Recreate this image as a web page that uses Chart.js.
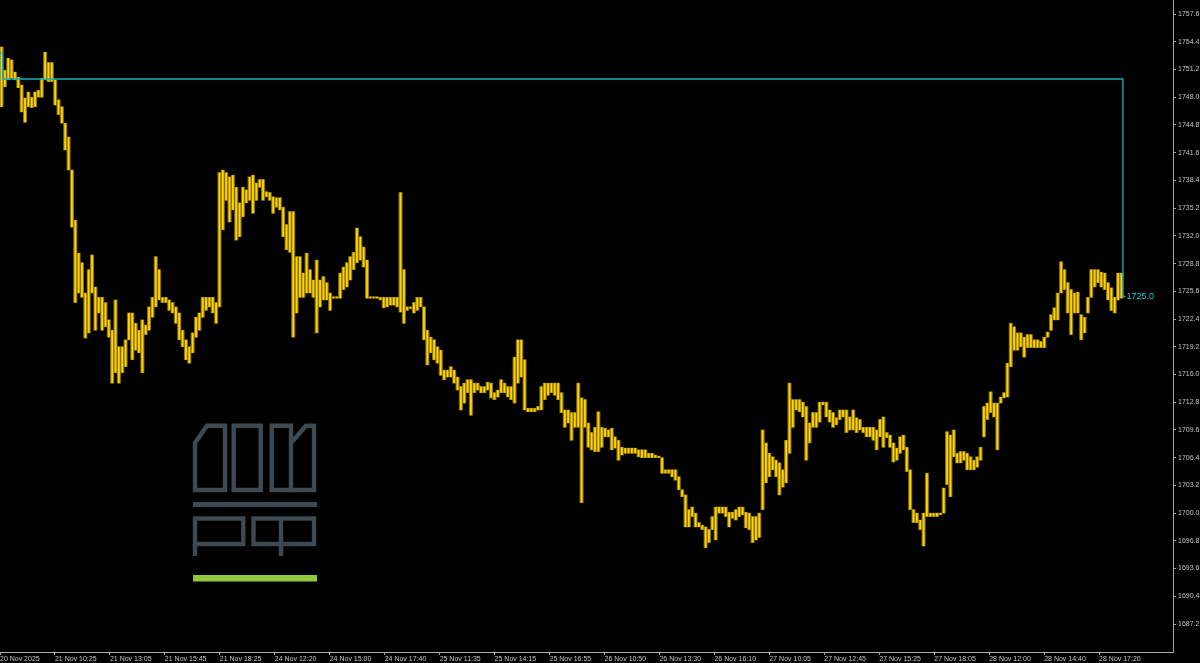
<!DOCTYPE html>
<html>
<head>
<meta charset="utf-8">
<script src="https://cdn.jsdelivr.net/npm/chart.js@4.4.1/dist/chart.umd.min.js"></script>
<style>
  html, body { margin: 0; padding: 0; background: #000; }
  #wrap { width: 1200px; height: 663px; position: relative; }
</style>
</head>
<body>
<div id="wrap"><canvas id="grafico"></canvas></div>
<script>
// Dados (barras de ~10 min)
const highs = [
  1753.8, 1751.1, 1752.5, 1752.3, 1750.9, 1750.3, 1749.4, 1747.9, 1748.6, 1748.0,
  1748.6, 1748.8, 1750.2, 1753.2, 1752.0, 1752.0, 1750.0, 1747.7, 1746.9, 1745.0,
  1743.4, 1739.6, 1733.8, 1730.0, 1728.9, 1725.4, 1728.1, 1729.8, 1726.1, 1724.9,
  1724.9, 1724.3, 1722.3, 1721.1, 1724.6, 1719.2, 1719.2, 1720.0, 1723.1, 1723.1,
  1721.9, 1721.1, 1722.3, 1721.7, 1723.8, 1724.9, 1729.6, 1728.1, 1724.9, 1724.9,
  1724.6, 1724.3, 1723.8, 1723.1, 1721.1, 1720.0, 1719.2, 1720.8, 1722.6, 1723.1,
  1724.9, 1724.9, 1724.9, 1724.9, 1724.3, 1739.3, 1739.6, 1739.3, 1738.8, 1739.0,
  1737.6, 1735.8, 1737.6, 1737.3, 1738.8, 1739.0, 1738.1, 1738.5, 1738.5, 1737.1,
  1737.0, 1736.5, 1736.4, 1736.4, 1735.3, 1733.3, 1734.8, 1734.8, 1729.6, 1729.6,
  1727.7, 1730.0, 1728.1, 1726.9, 1729.2, 1726.9, 1727.3, 1726.6, 1725.4, 1724.9,
  1724.9, 1727.7, 1728.4, 1728.9, 1729.6, 1730.1, 1732.9, 1731.9, 1730.7, 1729.2,
  1724.9, 1724.9, 1724.9, 1724.9, 1724.9, 1724.9, 1724.9, 1724.9, 1724.9, 1737.0,
  1728.1, 1723.8, 1723.8, 1724.3, 1724.9, 1724.9, 1723.8, 1721.1, 1720.3, 1720.0,
  1719.2, 1718.8, 1716.5, 1716.5, 1716.9, 1716.5, 1715.7, 1714.6, 1715.0, 1715.4,
  1715.4, 1715.0, 1715.0, 1714.6, 1714.6, 1715.1, 1715.0, 1713.9, 1714.2, 1715.4,
  1715.0, 1714.6, 1714.6, 1718.0, 1720.0, 1720.0, 1717.7, 1712.1, 1712.1, 1712.1,
  1712.3, 1714.6, 1715.0, 1715.0, 1715.0, 1715.0, 1715.0, 1713.9, 1711.9, 1711.9,
  1711.6, 1711.6, 1715.0, 1713.3, 1713.1, 1710.4, 1709.3, 1709.9, 1711.7, 1709.9,
  1709.8, 1709.6, 1709.8, 1708.8, 1708.4, 1707.6, 1707.5, 1707.5, 1707.5, 1707.5,
  1707.3, 1707.3, 1707.3, 1706.9, 1706.9, 1706.7, 1706.5, 1706.4, 1705.0, 1705.0,
  1705.0, 1705.0, 1704.2, 1702.7, 1702.1, 1700.4, 1700.7, 1700.0, 1698.9, 1698.6,
  1698.4, 1698.1, 1699.6, 1700.7, 1700.7, 1700.7, 1700.7, 1700.1, 1700.1, 1700.4,
  1700.7, 1700.7, 1700.1, 1700.0, 1699.6, 1699.6, 1700.0, 1709.6, 1708.1, 1706.9,
  1706.5, 1706.1, 1705.8, 1705.0, 1708.4, 1715.0, 1713.1, 1713.1, 1713.1, 1712.8,
  1712.3, 1710.4, 1711.6, 1711.6, 1712.8, 1712.8, 1712.8, 1711.9, 1711.6, 1711.0,
  1711.9, 1711.9, 1711.9, 1711.1, 1711.9, 1711.0, 1710.8, 1709.9, 1709.9, 1709.9,
  1709.9, 1709.6, 1710.8, 1711.1, 1709.3, 1709.0, 1708.1, 1707.5, 1708.8, 1709.0,
  1707.6, 1705.0, 1700.4, 1700.0, 1699.2, 1700.0, 1704.6, 1700.0, 1700.0, 1700.0,
  1700.0, 1702.9, 1709.4, 1709.0, 1709.6, 1706.9, 1707.1, 1707.1, 1706.9, 1706.5,
  1706.1, 1706.5, 1707.6, 1712.3, 1712.7, 1714.0, 1712.7, 1712.7, 1713.4, 1713.9,
  1717.3, 1721.9, 1721.5, 1720.8, 1720.8, 1720.3, 1720.6, 1720.6, 1720.0, 1720.0,
  1719.8, 1720.3, 1720.9, 1722.9, 1723.7, 1725.4, 1729.0, 1728.1, 1726.6, 1725.8,
  1725.4, 1725.5, 1722.9, 1722.6, 1724.9, 1728.1, 1728.1, 1728.1, 1727.8, 1727.7,
  1726.6, 1726.0, 1724.9, 1727.7, 1727.7
];
const lows = [
  1746.9, 1749.2, 1750.0, 1750.2, 1750.0, 1749.1, 1746.3, 1745.1, 1746.9, 1746.8,
  1746.9, 1748.0, 1748.0, 1750.0, 1749.8, 1749.8, 1747.1, 1746.0, 1745.0, 1741.9,
  1739.6, 1733.0, 1724.3, 1725.4, 1724.9, 1720.2, 1720.8, 1725.4, 1721.1, 1723.1,
  1721.1, 1721.5, 1720.3, 1715.0, 1716.2, 1715.0, 1716.2, 1716.9, 1720.0, 1717.7,
  1718.8, 1718.5, 1716.2, 1720.6, 1721.1, 1722.6, 1723.8, 1724.6, 1724.3, 1724.3,
  1723.4, 1723.1, 1721.9, 1720.0, 1719.2, 1717.7, 1717.3, 1718.5, 1720.3, 1721.1,
  1722.6, 1723.4, 1723.8, 1723.1, 1721.9, 1723.8, 1732.7, 1736.1, 1733.6, 1735.0,
  1731.5, 1731.9, 1734.2, 1735.8, 1736.1, 1734.6, 1736.1, 1737.6, 1736.1, 1736.5,
  1736.1, 1734.6, 1735.3, 1735.0, 1731.9, 1730.4, 1730.1, 1720.3, 1723.1, 1724.9,
  1724.9, 1725.4, 1725.4, 1724.9, 1720.8, 1723.8, 1724.6, 1724.6, 1723.4, 1724.8,
  1724.8, 1724.8, 1725.8, 1726.1, 1726.9, 1728.1, 1728.9, 1729.2, 1728.4, 1724.8,
  1724.8, 1724.8, 1724.8, 1724.6, 1723.7, 1723.8, 1724.0, 1724.0, 1723.8, 1723.2,
  1721.9, 1723.4, 1723.6, 1723.1, 1723.4, 1723.8, 1720.0, 1717.1, 1718.5, 1717.7,
  1717.3, 1715.9, 1715.4, 1715.7, 1715.7, 1715.0, 1714.2, 1711.9, 1712.7, 1713.9,
  1711.3, 1713.9, 1714.2, 1713.9, 1713.9, 1714.2, 1713.3, 1713.1, 1713.4, 1713.9,
  1713.9, 1713.4, 1713.1, 1712.7, 1715.0, 1715.7, 1711.9, 1711.7, 1711.7, 1711.7,
  1711.9, 1711.9, 1713.1, 1713.6, 1713.9, 1713.6, 1713.1, 1711.6, 1709.9, 1710.4,
  1708.4, 1709.9, 1709.9, 1701.2, 1709.9, 1707.6, 1707.3, 1707.1, 1707.1, 1707.6,
  1708.8, 1708.8, 1707.3, 1707.5, 1706.1, 1706.7, 1706.9, 1706.9, 1706.9, 1706.9,
  1706.5, 1706.4, 1706.4, 1706.4, 1706.4, 1706.4, 1706.4, 1704.6, 1704.6, 1704.6,
  1704.2, 1703.8, 1702.7, 1701.9, 1698.4, 1698.4, 1699.6, 1698.4, 1698.4, 1698.1,
  1696.0, 1696.6, 1698.1, 1696.9, 1700.0, 1700.0, 1699.6, 1698.4, 1699.4, 1699.2,
  1699.6, 1699.8, 1698.3, 1698.1, 1696.6, 1696.9, 1697.2, 1700.4, 1703.5, 1704.2,
  1705.0, 1704.2, 1702.1, 1703.0, 1703.5, 1706.9, 1709.9, 1711.9, 1711.7, 1711.1,
  1706.1, 1708.1, 1709.9, 1709.9, 1710.5, 1712.5, 1711.1, 1710.5, 1709.9, 1710.2,
  1710.8, 1711.1, 1709.3, 1709.6, 1709.6, 1709.3, 1709.6, 1709.3, 1708.8, 1708.8,
  1708.4, 1707.3, 1708.8, 1707.6, 1708.7, 1707.6, 1705.9, 1706.1, 1706.9, 1707.3,
  1704.8, 1700.4, 1698.9, 1698.9, 1698.1, 1696.2, 1699.6, 1699.6, 1699.6, 1699.6,
  1699.8, 1700.0, 1703.3, 1701.9, 1706.5, 1705.8, 1705.8, 1706.1, 1705.0, 1705.0,
  1705.0, 1705.3, 1706.1, 1708.8, 1710.8, 1711.6, 1711.1, 1707.3, 1712.7, 1713.3,
  1713.4, 1716.9, 1718.8, 1718.8, 1719.2, 1718.0, 1719.1, 1719.1, 1719.1, 1719.1,
  1719.1, 1719.1, 1720.3, 1721.1, 1722.3, 1722.3, 1725.4, 1725.8, 1723.1, 1720.6,
  1723.1, 1723.1, 1720.0, 1720.8, 1723.1, 1724.9, 1726.1, 1726.6, 1726.1, 1725.8,
  1724.6, 1723.4, 1723.1, 1724.6, 1724.8
];

// Linha ciano (índice da barra, preço)
const linhaX = [-0.45, 0.35, 334.45, 335.2];
const linhaY = [1753.1, 1750.1, 1725.0, 1725.0];

const xTickLabels = [
  '20 Nov 2025', '21 Nov 10:25', '21 Nov 13:05', '21 Nov 15:45', '21 Nov 18:25',
  '24 Nov 12:20', '24 Nov 15:00', '24 Nov 17:40', '25 Nov 11:35', '25 Nov 14:15',
  '25 Nov 16:55', '26 Nov 10:50', '26 Nov 13:30', '26 Nov 16:10', '27 Nov 10:05',
  '27 Nov 12:45', '27 Nov 15:25', '27 Nov 18:05', '28 Nov 12:00', '28 Nov 14:40',
  '28 Nov 17:20'
];
const yTickValues = [
  1687.2, 1690.4, 1693.6, 1696.8, 1700.0, 1703.2, 1706.4, 1709.6, 1712.8, 1716.0,
  1719.2, 1722.4, 1725.6, 1728.8, 1732.0, 1735.2, 1738.4, 1741.6, 1744.8, 1748.0,
  1751.2, 1754.4, 1757.6
];

const X_MIN = -0.45, X_MAX = 349.39, BARRAS_POR_LABEL = 16.39;
const Y_MIN = 1683.97, Y_MAX = 1759.22;
const corEixo = '#a8a8a8';
const corTexto = '#c4c4c4';

// Logo ДОМ.РФ e rótulo do último preço
const extras = {
  id: 'extras',
  beforeDatasetsDraw(chart) {
    const c = chart.ctx;
    c.save();
    c.strokeStyle = '#3d4a53';
    c.fillStyle = '#3d4a53';
    c.lineWidth = 4.4;
    c.lineJoin = 'miter';
    // Д
    c.beginPath();
    c.moveTo(195, 490); c.lineTo(195, 443); c.lineTo(207, 425.7);
    c.lineTo(225, 425.7); c.lineTo(225, 490); c.closePath(); c.stroke();
    // О
    c.strokeRect(233.7, 425.7, 27, 64.3);
    // М
    c.beginPath();
    c.moveTo(271.7, 490); c.lineTo(271.7, 425.7); c.lineTo(291, 425.7);
    c.lineTo(291, 490); c.closePath(); c.stroke();
    c.beginPath();
    c.moveTo(291, 443); c.lineTo(306, 425.7); c.lineTo(314, 425.7);
    c.lineTo(314, 490); c.lineTo(291, 490); c.stroke();
    // barra
    c.fillRect(193, 502, 124, 5);
    // Р
    c.strokeRect(195, 518.5, 48.3, 25.5);
    c.beginPath(); c.moveTo(195, 544); c.lineTo(195, 556); c.stroke();
    // Ф
    c.strokeRect(253.5, 518.5, 60.5, 25.5);
    c.beginPath(); c.moveTo(281, 518.5); c.lineTo(281, 556); c.stroke();
    // barra verde
    c.fillStyle = '#92c83e';
    c.fillRect(193, 575, 124, 6.5);
    c.restore();
  },
  afterDatasetsDraw(chart) {
    const c = chart.ctx;
    const ultimo = linhaY[linhaY.length - 1];
    const x = chart.scales.x.getPixelForValue(linhaX[linhaX.length - 1]) + 1;
    const y = chart.scales.y.getPixelForValue(ultimo);
    c.save();
    c.fillStyle = '#22cdd6';
    c.font = '9px "Liberation Sans", Arial, sans-serif';
    c.textAlign = 'left';
    c.textBaseline = 'middle';
    c.fillText(ultimo.toFixed(1), x, y);
    c.restore();
  }
};

function renderGrafico() {
  const ctx = document.getElementById('grafico').getContext('2d');
  const barras = highs.map((h, i) => ({ x: i, y: [lows[i], h] }));

  new Chart(ctx, {
    type: 'bar',
    data: {
      datasets: [{
        type: 'line',
        data: linhaX.map((x, i) => ({ x: x, y: linhaY[i] })),
        borderColor: '#17aeb6',
        borderWidth: 1.3,
        stepped: 'before',
        pointRadius: 0,
        order: 0
      }, {
        // núcleo claro
        data: barras,
        backgroundColor: '#ffd400',
        barPercentage: 0.55,
        categoryPercentage: 1,
        minBarLength: 1.5,
        grouped: false,
        order: 1
      }, {
        // contorno escuro
        data: barras,
        backgroundColor: '#8a7200',
        barPercentage: 1,
        categoryPercentage: 1,
        minBarLength: 1.5,
        grouped: false,
        order: 2
      }]
    },
    options: {
      responsive: true,
      maintainAspectRatio: false,
      animation: false,
      layout: { padding: 0, autoPadding: false },
      plugins: { legend: { display: false }, tooltip: { enabled: false } },
      scales: {
        x: {
          type: 'linear',
          min: X_MIN,
          max: X_MAX,
          offset: false,
          border: { display: true, color: corEixo, width: 1 },
          grid: { display: true, offset: false, drawOnChartArea: false, drawTicks: true, tickLength: 3, color: corEixo },
          ticks: {
            color: corTexto,
            font: { family: '"Liberation Sans", Arial, sans-serif', size: 7 },
            align: 'start',
            maxRotation: 0,
            autoSkip: false,
            padding: 0,
            callback: (v, i) => xTickLabels[i]
          },
          afterBuildTicks: s => {
            s.ticks = xTickLabels.map((_, k) => ({ value: X_MIN + k * BARRAS_POR_LABEL }));
          },
          afterFit: s => {
            s.height = 11;
            s.paddingLeft = 0;
            s.paddingRight = 0;
          }
        },
        y: {
          type: 'linear',
          position: 'right',
          min: Y_MIN,
          max: Y_MAX,
          border: { display: true, color: corEixo, width: 1 },
          grid: { display: true, drawOnChartArea: false, drawTicks: true, tickLength: 3, color: corEixo },
          ticks: {
            color: corTexto,
            font: { family: '"Liberation Sans", Arial, sans-serif', size: 7 },
            padding: 2,
            crossAlign: 'near',
            callback: v => v.toFixed(1)
          },
          afterBuildTicks: s => {
            s.ticks = yTickValues.map(v => ({ value: v }));
          },
          afterFit: s => {
            s.width = 27;
            s.paddingTop = 0;
            s.paddingBottom = 0;
          }
        }
      }
    },
    plugins: [extras]
  });
}

renderGrafico();
</script>
</body>
</html>
